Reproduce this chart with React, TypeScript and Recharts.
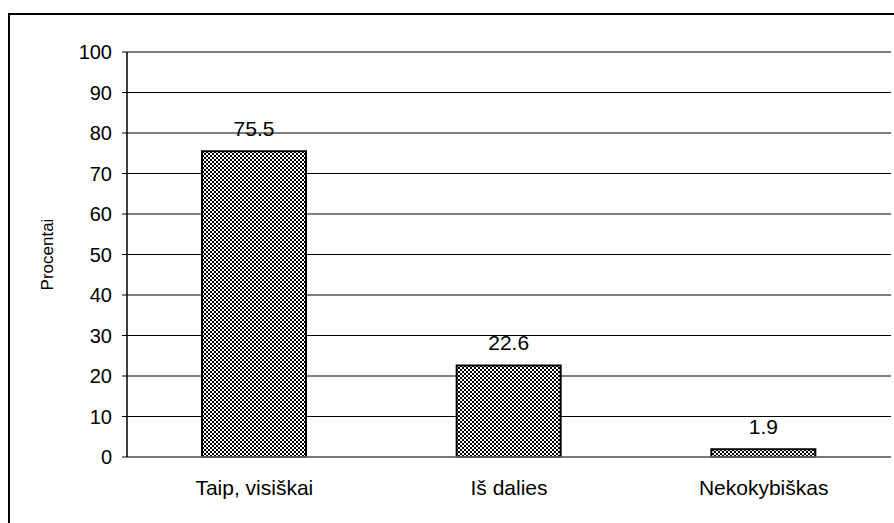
import React from 'react';
import { BarChart, Bar, XAxis, YAxis, CartesianGrid, LabelList } from 'recharts';

const categories = ['Taip, visiškai', 'Iš dalies', 'Nekokybiškas'];
const values = [75.5, 22.6, 1.9];
const yTicks = [0, 10, 20, 30, 40, 50, 60, 70, 80, 90, 100];
const boundaryTicks = [0, 1, 2, 3];

const data = categories.map((name, i) => ({ name, value: values[i] }));

const FONT = '"Liberation Sans", Arial, sans-serif';

export default function App() {
  return (
    <div
      style={{
        position: 'absolute',
        left: 8,
        top: 13,
        width: 886,
        height: 510,
        borderTop: '2px solid #000',
        borderLeft: '2px solid #000',
        boxSizing: 'border-box',
        overflow: 'hidden',
        background: '#fff',
      }}
    >
      <BarChart
        width={884}
        height={508}
        data={data}
        margin={{ top: 37, right: 3, bottom: 35, left: 0 }}
        barSize={104}
      >
        <defs>
          <pattern id="dots" width="4" height="4" patternUnits="userSpaceOnUse">
            <rect x="0" y="0" width="4" height="4" fill="#fff" />
            <rect x="0" y="0" width="2" height="2" fill="#000" />
            <rect x="2" y="2" width="2" height="2" fill="#000" />
          </pattern>
        </defs>
        <CartesianGrid vertical={false} stroke="#000" strokeWidth={1} />
        <XAxis
          xAxisId="bounds"
          type="number"
          domain={[0, 3]}
          ticks={boundaryTicks}
          allowDataOverflow
          height={1}
          tick={false}
          tickSize={5}
          axisLine={false}
          tickLine={{ stroke: '#000' }}
        />
        <XAxis
          dataKey="name"
          height={30}
          tickLine={false}
          tickSize={0}
          tickMargin={23}
          axisLine={{ stroke: '#777', strokeWidth: 1.5 }}
          tick={{ fill: '#000', fontSize: 21, fontFamily: FONT }}
        />
        <YAxis
          width={117}
          domain={[0, 100]}
          ticks={yTicks}
          interval={0}
          tickSize={5}
          tickMargin={10}
          axisLine={{ stroke: '#000', strokeWidth: 1.5 }}
          tickLine={{ stroke: '#000' }}
          tick={{ fill: '#000', fontSize: 20, fontFamily: FONT }}
          label={{
            value: 'Procentai',
            angle: -90,
            position: 'center',
            dx: -22,
            style: { fill: '#000', fontSize: 17, fontFamily: FONT },
          }}
        />
        <Bar
          dataKey="value"
          fill="url(#dots)"
          stroke="#000"
          strokeWidth={2}
          isAnimationActive={false}
        >
          <LabelList
            dataKey="value"
            position="top"
            offset={15}
            style={{ fill: '#000', fontSize: 21, fontFamily: FONT }}
          />
        </Bar>
      </BarChart>
    </div>
  );
}
